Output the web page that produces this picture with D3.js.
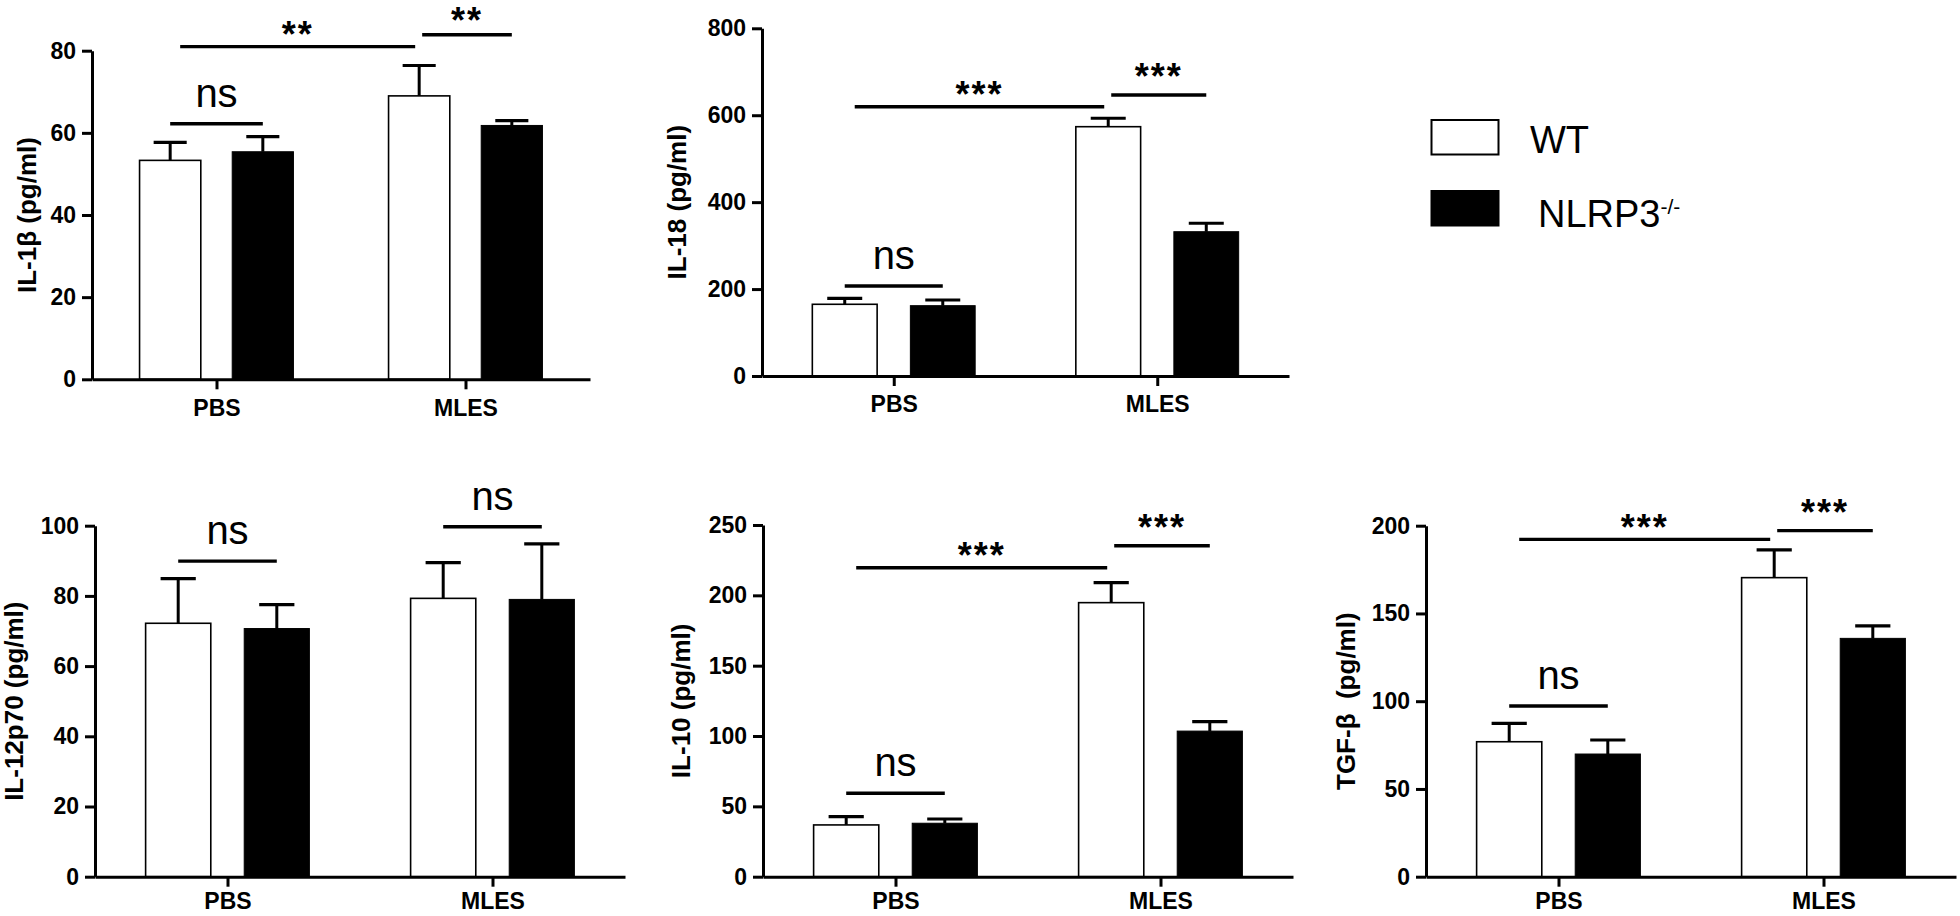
<!DOCTYPE html>
<html>
<head>
<meta charset="utf-8">
<script src="https://cdn.jsdelivr.net/npm/d3@7"></script>
<style>
  html, body { margin: 0; padding: 0; background: #fff; }
  svg { display: block; }
  text { font-family: "Liberation Sans", Arial, Helvetica, sans-serif; fill: #000; }
</style>
</head>
<body>
<svg id="chart" width="1960" height="916"></svg>
<script>
// ---------------- DATA ----------------
const categories = ["PBS", "MLES"];
const groups = ["WT", "NLRP3"];

// IL-1β
const il1bWT = [53.3, 69.0];
const il1bWTErr = [4.4, 7.4];
const il1bKO = [55.4, 61.8];
const il1bKOErr = [3.7, 1.2];
const il1bTicks = [0, 20, 40, 60, 80];

// IL-18
const il18WT = [165, 573.6];
const il18WTErr = [13.8, 19.4];
const il18KO = [161.8, 332];
const il18KOErr = [13.1, 19.5];
const il18Ticks = [0, 200, 400, 600, 800];

// IL-12p70
const il12WT = [72.2, 79.3];
const il12WTErr = [12.7, 10.2];
const il12KO = [70.7, 79.0];
const il12KOErr = [6.8, 15.8];
const il12Ticks = [0, 20, 40, 60, 80, 100];

// IL-10
const il10WT = [36.8, 194.8];
const il10WTErr = [5.9, 14.2];
const il10KO = [38.0, 103.5];
const il10KOErr = [3.0, 6.7];
const il10Ticks = [0, 50, 100, 150, 200, 250];

// TGF-β
const tgfWT = [76.9, 170.4];
const tgfWTErr = [10.5, 15.8];
const tgfKO = [69.9, 135.8];
const tgfKOErr = [8.0, 7.1];
const tgfTicks = [0, 50, 100, 150, 200];

// significance annotations: [fromCat, fromGroup, toCat, toGroup, value, label, kind]
const il1bSig = [
  ["PBS", "WT", "PBS", "NLRP3", 62.2, "ns", "ns"],
  ["PBS", "WT", "MLES", "WT", 81.0, "**", "long"],
  ["MLES", "WT", "MLES", "NLRP3", 83.9, "**", "short"]
];
const il18Sig = [
  ["PBS", "WT", "PBS", "NLRP3", 207, "ns", "ns"],
  ["PBS", "WT", "MLES", "WT", 619.6, "***", "long"],
  ["MLES", "WT", "MLES", "NLRP3", 646.6, "***", "short"]
];
const il12Sig = [
  ["PBS", "WT", "PBS", "NLRP3", 89.9, "ns", "ns"],
  ["MLES", "WT", "MLES", "NLRP3", 99.7, "ns", "ns"]
];
const il10Sig = [
  ["PBS", "WT", "PBS", "NLRP3", 59.3, "ns", "ns"],
  ["PBS", "WT", "MLES", "WT", 219.6, "***", "long"],
  ["MLES", "WT", "MLES", "NLRP3", 235.3, "***", "short"]
];
const tgfSig = [
  ["PBS", "WT", "PBS", "NLRP3", 97.3, "ns", "ns"],
  ["PBS", "WT", "MLES", "WT", 192.2, "***", "long"],
  ["MLES", "WT", "MLES", "NLRP3", 197.2, "***", "short"]
];

const legendLabels = ["WT", "NLRP3"];
const legendSup = ["", "-/-"];

// ---------------- LAYOUT ----------------
const panels = [
  { label: "IL-1β (pg/ml)", wt: il1bWT, wtE: il1bWTErr, ko: il1bKO, koE: il1bKOErr, ticks: il1bTicks, sig: il1bSig,
    x0: 92, x1: 590, yb: 379.3, yt: 50.7, labelX: 27, xPad: 10 },
  { label: "IL-18 (pg/ml)", wt: il18WT, wtE: il18WTErr, ko: il18KO, koE: il18KOErr, ticks: il18Ticks, sig: il18Sig,
    x0: 762, x1: 1289, yb: 376, yt: 28.3, labelX: 677, xPad: 10 },
  { label: "IL-12p70 (pg/ml)", wt: il12WT, wtE: il12WTErr, ko: il12KO, koE: il12KOErr, ticks: il12Ticks, sig: il12Sig,
    x0: 95, x1: 625, yb: 876.7, yt: 525.7, labelX: 14, xPad: 6 },
  { label: "IL-10 (pg/ml)", wt: il10WT, wtE: il10WTErr, ko: il10KO, koE: il10KOErr, ticks: il10Ticks, sig: il10Sig,
    x0: 763, x1: 1293, yb: 876.7, yt: 525, labelX: 681, xPad: 6 },
  { label: "TGF-β\u00a0\u00a0(pg/ml)", wt: tgfWT, wtE: tgfWTErr, ko: tgfKO, koE: tgfKOErr, ticks: tgfTicks, sig: tgfSig,
    x0: 1426, x1: 1956, yb: 876.7, yt: 525.7, labelX: 1346, xPad: 6 }
];

const svg = d3.select("#chart");
const starSize = 36;

panels.forEach(p => {
  const g = svg.append("g");
  const W = p.x1 - p.x0;
  const x = d3.scalePoint().domain(categories).range([p.x0, p.x1]).padding(0.5);
  const xs = d3.scaleBand().domain(groups).range([-0.1545 * W, 0.1545 * W]).paddingInner(0.339).paddingOuter(0);
  const y = d3.scaleLinear().domain([0, d3.max(p.ticks)]).range([p.yb, p.yt]);
  const bw = xs.bandwidth();

  const rows = [];
  categories.forEach((c, i) => {
    rows.push({ cat: c, grp: "WT", v: p.wt[i], e: p.wtE[i] });
    rows.push({ cat: c, grp: "NLRP3", v: p.ko[i], e: p.koE[i] });
  });
  const cx = (c, gr) => x(c) + xs(gr) + bw / 2;

  // error bars
  g.selectAll(".err").data(rows).enter().append("line")
    .attr("x1", d => cx(d.cat, d.grp)).attr("x2", d => cx(d.cat, d.grp))
    .attr("y1", d => y(d.v)).attr("y2", d => y(d.v + d.e))
    .attr("stroke", "#000").attr("stroke-width", 3);
  g.selectAll(".cap").data(rows).enter().append("line")
    .attr("x1", d => cx(d.cat, d.grp) - bw * 0.27).attr("x2", d => cx(d.cat, d.grp) + bw * 0.27)
    .attr("y1", d => y(d.v + d.e)).attr("y2", d => y(d.v + d.e))
    .attr("stroke", "#000").attr("stroke-width", 3.2);

  // bars
  g.selectAll(".bar").data(rows).enter().append("rect")
    .attr("x", d => x(d.cat) + xs(d.grp))
    .attr("y", d => y(d.v))
    .attr("width", bw)
    .attr("height", d => y(0) - y(d.v))
    .attr("fill", d => d.grp === "WT" ? "#fff" : "#000")
    .attr("stroke", "#000")
    .attr("stroke-width", d => d.grp === "WT" ? 1.6 : 1);

  // axes
  const ya = g.append("g").attr("transform", `translate(${p.x0},0)`)
    .call(d3.axisLeft(y).tickValues(p.ticks).tickSize(10).tickSizeOuter(0).tickPadding(6));
  ya.selectAll("text").style("font-size", "23px").style("font-weight", "bold");
  const xa = g.append("g").attr("transform", `translate(0,${p.yb})`)
    .call(d3.axisBottom(x).tickSize(10).tickSizeOuter(0).tickPadding(p.xPad));
  xa.selectAll("text").style("font-size", "23px").style("font-weight", "bold");
  [ya, xa].forEach(a => {
    a.select(".domain").attr("stroke", "#000").attr("stroke-width", 3);
    a.selectAll(".tick line").attr("stroke", "#000").attr("stroke-width", 3);
  });

  // y label
  g.append("text")
    .attr("transform", `translate(${p.labelX},${(p.yb + p.yt) / 2}) rotate(-90)`)
    .attr("text-anchor", "middle").attr("dy", "0.35em")
    .style("font-size", "26px").style("font-weight", "bold")
    .text(p.label);

  // significance
  p.sig.forEach(s => {
    let xa1 = cx(s[0], s[1]), xa2 = cx(s[2], s[3]);
    if (s[6] === "long") { xa1 += 10; xa2 -= 4; }
    if (s[6] === "short") { xa1 += 3; }
    const yy = y(s[4]);
    g.append("line").attr("x1", xa1).attr("x2", xa2).attr("y1", yy).attr("y2", yy)
      .attr("stroke", "#000").attr("stroke-width", 3.4);
    const mid = (xa1 + xa2) / 2;
    if (s[6] === "ns") {
      g.append("text").attr("x", mid).attr("y", yy - 17).attr("text-anchor", "middle")
        .style("font-size", "40px").text(s[5]);
    } else {
      const off = s[6] === "long" ? 20 : 26;
      const base = Math.max(yy - off + 0.56 * starSize, 0.92 * starSize);
      g.append("text").attr("x", mid).attr("y", base).attr("text-anchor", "middle")
        .style("font-size", starSize + "px").style("font-weight", "bold").style("letter-spacing", "2px")
        .text(s[5]);
    }
  });
});

// legend
const leg = svg.append("g");
const legBoxY = [120, 191];
const legTextX = [1530, 1538];
const legBase = [152.7, 226.7];
legendLabels.forEach((l, i) => {
  leg.append("rect").attr("x", 1431.5).attr("y", legBoxY[i]).attr("width", 67).attr("height", 34.5)
    .attr("fill", i === 0 ? "#fff" : "#000").attr("stroke", "#000").attr("stroke-width", 2);
  const t = leg.append("text").attr("x", legTextX[i]).attr("y", legBase[i]).style("font-size", "38px").text(l);
  if (legendSup[i]) {
    t.append("tspan").attr("dy", "-0.62em").style("font-size", "21px").text(legendSup[i]);
  }
});
</script>
</body>
</html>
